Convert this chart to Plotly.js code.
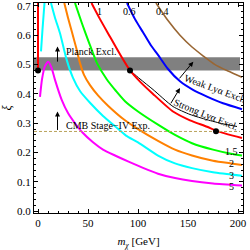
<!DOCTYPE html>
<html>
<head>
<meta charset="utf-8">
<script src="https://cdn.plot.ly/plotly-3.0.1.min.js"></script>
<style>html,body{margin:0;padding:0;background:#fff;}#chart{width:250px;height:250px;}</style>
</head>
<body>
<div id="chart"></div>
<script>
// Contour c = 1 (red)
const xRed = [53.5, 62, 72, 82, 92, 102, 115, 135, 152, 169, 178, 190, 204];
const yRed = [0.71, 0.655, 0.595, 0.535, 0.48, 0.442, 0.40, 0.34, 0.31, 0.288, 0.275, 0.262, 0.25];
// red vertical branch at m ~ 0
const xRedV = [0, 0];
const yRedV = [0.48, 0.71];
// Strong Lyα boundary (black)
const xStrong = [92, 102, 115, 135, 152, 169, 185, 199];
const yStrong = [0.48, 0.451, 0.415, 0.357, 0.33, 0.312, 0.298, 0.289];
// c = 0.6 (blue)
const xBlue = [89, 97, 105, 113, 120, 130, 142, 155, 169, 185, 204];
const yBlue = [0.71, 0.655, 0.61, 0.565, 0.533, 0.485, 0.443, 0.414, 0.391, 0.368, 0.348];
// c = 0.4 (brown)
const xBrown = [118, 130, 142, 154, 165, 177, 190, 204];
const yBrown = [0.71, 0.65, 0.60, 0.56, 0.53, 0.50, 0.478, 0.457];
// c = 1.5 (green)
const xGreen = [37, 44, 51, 59, 68.7, 78, 87, 100, 120, 137, 154, 175, 193, 204];
const yGreen = [0.71, 0.64, 0.575, 0.505, 0.45, 0.41, 0.375, 0.34, 0.295, 0.26, 0.232, 0.21, 0.196, 0.19];
// c = 2 (orange)
const xOrange = [26.3, 30, 34, 38, 42, 46, 52, 60, 70, 87, 100, 120, 137, 154, 175, 193, 204];
const yOrange = [0.71, 0.66, 0.61, 0.56, 0.505, 0.465, 0.43, 0.395, 0.36, 0.31, 0.28, 0.24, 0.21, 0.19, 0.172, 0.163, 0.158];
// c = 3 (cyan), main and small left branch
const xCyan = [13, 17, 22, 28.7, 35, 42, 52, 65, 77, 88, 100, 120, 137, 154, 175, 204];
const yCyan = [0.71, 0.66, 0.607, 0.516, 0.455, 0.41, 0.37, 0.325, 0.29, 0.258, 0.235, 0.19, 0.163, 0.147, 0.133, 0.121];
const xCyanL = [3, 4.5, 6.5];
const yCyanL = [0.545, 0.62, 0.71];
// c = 5 (magenta)
const xMag = [2, 4, 7, 10.3, 13.5, 17, 23.7, 30, 37, 44, 55, 65, 77, 90, 105, 120, 137, 154, 175, 204];
const yMag = [0.39, 0.45, 0.495, 0.51, 0.49, 0.448, 0.38, 0.335, 0.30, 0.27, 0.235, 0.21, 0.19, 0.17, 0.148, 0.128, 0.113, 0.103, 0.095, 0.088];
// benchmark points
const xDots = [0, 92, 178];
const yDots = [0.48, 0.48, 0.273];
// Planck band and CMB-S4 line
const planckBand = [0.48, 0.525];
const cmbLine = 0.272;
// contour labels
const topLabels = ['1', '0.6', '0.4'];
const topLabelX = [61, 91, 124];
const sideLabels = ['1.5', '2', '3', '5'];
const sideLabelY = [0.204, 0.163, 0.122, 0.083];
const xTicks = [0, 50, 100, 150, 200];

const FONT = 'Liberation Serif, Times New Roman, serif';

function line(x, y, color, width) {
  return {x: x, y: y, type: 'scatter', mode: 'lines', line: {color: color, width: width, shape: 'spline', smoothing: 0.6}, hoverinfo: 'skip', showlegend: false};
}

const traces = [
  line(xBrown, yBrown, '#996633', 1.6),
  line(xBlue, yBlue, '#0000ff', 2),
  line(xStrong, yStrong, '#000000', 1),
  line(xRed, yRed, '#ff0000', 2),
  line(xRedV, yRedV, '#ff0000', 2),
  line(xGreen, yGreen, '#00ff00', 2),
  line(xOrange, yOrange, '#ff8000', 2),
  line(xCyan, yCyan, '#00ffff', 2),
  line(xCyanL, yCyanL, '#00ffff', 2),
  line(xMag, yMag, '#ff00ff', 2),
  {x: [-4, 202], y: [cmbLine, cmbLine], type: 'scatter', mode: 'lines', line: {color: '#b9a25a', width: 1, dash: '3px,2px'}, hoverinfo: 'skip', showlegend: false},
  {x: xDots, y: yDots, type: 'scatter', mode: 'markers', marker: {color: '#000', size: 6}, hoverinfo: 'skip', showlegend: false}
];

const tf = {family: FONT, size: 10, color: '#000'};
const annotations = [];
topLabels.forEach((t, i) => annotations.push({x: topLabelX[i], y: 0.68, text: t, showarrow: false, font: tf, xanchor: 'center', yanchor: 'middle'}));
sideLabels.forEach((t, i) => annotations.push({x: 193, y: sideLabelY[i], text: t, showarrow: false, font: tf, xanchor: 'center', yanchor: 'middle'}));
annotations.push({x: 25.5, y: 0.545, text: 'Planck Excl.', showarrow: false, font: tf, xanchor: 'left', yanchor: 'middle'});
annotations.push({x: 25.5, y: 0.294, text: 'CMB Stage\u2212IV Exp.', showarrow: false, font: tf, xanchor: 'left', yanchor: 'middle'});
annotations.push({x: 177, y: 0.42, text: 'Weak Ly\u03b1 Excl.', showarrow: false, font: tf, textangle: 20});
annotations.push({x: 168, y: 0.331, text: 'Strong Ly\u03b1 Excl.', showarrow: false, font: tf, textangle: 22});
// arrows
const arrowSpecs = [
  [19.5, 0.562, 19.5, 0.505],
  [19.5, 0.34, 19.5, 0.272],
  [155.3, 0.51, 140.3, 0.448],
  [142, 0.42, 132, 0.363]
];
arrowSpecs.forEach(a => annotations.push({x: a[0], y: a[1], ax: a[2], ay: a[3], axref: 'x', ayref: 'y', xref: 'x', yref: 'y', text: '', showarrow: true, arrowhead: 2, arrowsize: 1, arrowwidth: 1, arrowcolor: '#000'}));

const axisCommon = {
  showline: true, linecolor: '#000', linewidth: 1, mirror: 'allticks',
  ticks: 'inside', ticklen: 4, tickwidth: 1, tickcolor: '#000',
  showgrid: false, zeroline: false, ticklabeloverflow: 'allow',
  tickfont: {family: FONT, size: 11, color: '#000'}
};

const layout = {
  width: 250, height: 250,
  margin: {l: 34, r: 7, t: 3, b: 37},
  paper_bgcolor: '#fff', plot_bgcolor: '#fff',
  showlegend: false,
  xaxis: Object.assign({}, axisCommon, {
    range: [-4, 205], tickvals: xTicks, ticktext: xTicks.map(String),
    minor: {dtick: 10, tick0: 0, ticklen: 2, ticks: 'inside', tickcolor: '#000'},
    title: {text: '<i>m</i><sub><i>\u03c7</i></sub> [GeV]', font: {family: FONT, size: 11, color: '#000'}, standoff: 9}
  }),
  yaxis: Object.assign({}, axisCommon, {
    range: [-0.006, 0.71], dtick: 0.1, tick0: 0, tickformat: '.1f',
    minor: {dtick: 0.02, tick0: 0, ticklen: 2, ticks: 'inside', tickcolor: '#000'},
    title: {text: '<i>\u03be</i>', font: {family: FONT, size: 12, color: '#000'}, standoff: 2}
  }),
  shapes: [
    {type: 'rect', xref: 'x', yref: 'y', x0: -4, x1: 202, y0: planckBand[0], y1: planckBand[1], fillcolor: '#808080', line: {width: 0}, layer: 'below'}
  ],
  annotations: annotations
};

Plotly.newPlot('chart', traces, layout, {staticPlot: true, displayModeBar: false});
</script>
</body>
</html>
